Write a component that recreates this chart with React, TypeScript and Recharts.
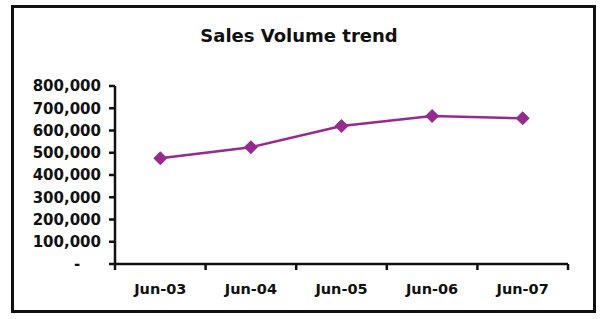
import React from 'react';
import { LineChart, Line, XAxis, YAxis } from 'recharts';

const months = ['Jun-03', 'Jun-04', 'Jun-05', 'Jun-06', 'Jun-07'];
const salesVolume = [475000, 525000, 620000, 665000, 655000];
const yTicks = [0, 100000, 200000, 300000, 400000, 500000, 600000, 700000, 800000];

const data = months.map((month, i) => ({ month, volume: salesVolume[i] }));

const FONT = '"DejaVu Sans", Verdana, sans-serif';
const PURPLE = '#962a8e';
const TICK_SIZE = 6;
const TICK_MARGIN = 14;

// accounting style: zero shows as a dash
const formatVolume = (v: number) => (v === 0 ? '-\u00a0\u00a0\u00a0\u00a0' : v.toLocaleString('en-US'));

// category tick: labels in the middle of the band, tick marks on band edges
function MonthTick(props: any) {
  const { x, y, payload, index } = props;
  const offset = payload.offset ?? 0;
  const axisY = y - TICK_MARGIN - TICK_SIZE;
  const last = index === months.length - 1;
  return (
    <g>
      <line x1={x - offset} y1={axisY} x2={x - offset} y2={axisY + TICK_SIZE} stroke="#111" strokeWidth={2.5} />
      {last && (
        <line x1={x + offset} y1={axisY} x2={x + offset} y2={axisY + TICK_SIZE} stroke="#111" strokeWidth={2.5} />
      )}
      <text x={x} y={y} dy="0.71em" textAnchor="middle" fill="#111" fontSize={14.5} fontWeight={700} fontFamily={FONT}>
        {payload.value}
      </text>
    </g>
  );
}

function Diamond(props: any) {
  const { cx, cy } = props;
  if (cx == null || cy == null) return null;
  const r = 7;
  return <path d={`M${cx},${cy - r}L${cx + r},${cy}L${cx},${cy + r}L${cx - r},${cy}Z`} fill={PURPLE} />;
}

export default function App() {
  return (
    <div style={{ position: 'absolute', left: 0, top: 0, width: 600, height: 319, background: '#fff' }}>
      <div
        style={{
          position: 'absolute',
          left: 11,
          top: 5,
          width: 585,
          height: 308,
          border: '3px solid #111',
          boxSizing: 'border-box',
        }}
      />
      <div
        style={{
          position: 'absolute',
          left: 0,
          top: 25,
          width: 598,
          textAlign: 'center',
          fontFamily: FONT,
          fontWeight: 700,
          fontSize: 18,
          color: '#111',
        }}
      >
        Sales Volume trend
      </div>
      <div style={{ position: 'absolute', left: 0, top: 0 }}>
        <LineChart width={600} height={319} data={data} margin={{ top: 86, right: 32, bottom: 25, left: 0 }}>
          <XAxis
            dataKey="month"
            scale="band"
            height={30}
            tickLine={false}
            tickSize={TICK_SIZE}
            tickMargin={TICK_MARGIN}
            axisLine={{ stroke: '#111', strokeWidth: 2.5 }}
            tick={<MonthTick />}
            interval={0}
          />
          <YAxis
            width={115}
            domain={[0, 800000]}
            ticks={yTicks}
            tickFormatter={formatVolume}
            tickSize={6}
            tickMargin={8}
            axisLine={{ stroke: '#111', strokeWidth: 2.5 }}
            tickLine={{ stroke: '#111', strokeWidth: 2.5 }}
            tick={{ fill: '#111', fontSize: 15, fontWeight: 700, fontFamily: FONT }}
            interval={0}
          />
          <Line
            type="linear"
            dataKey="volume"
            stroke={PURPLE}
            strokeWidth={2.5}
            dot={<Diamond />}
            activeDot={false}
            isAnimationActive={false}
          />
        </LineChart>
      </div>
    </div>
  );
}
